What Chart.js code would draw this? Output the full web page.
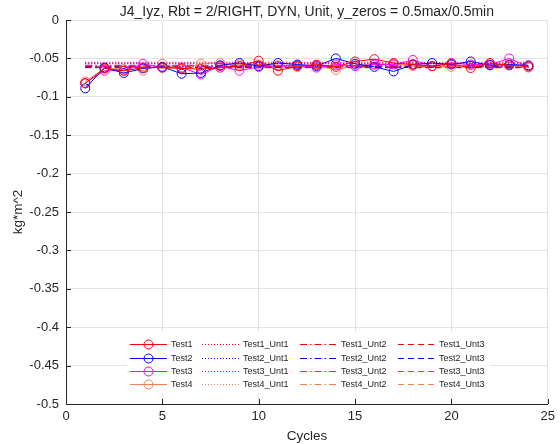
<!DOCTYPE html>
<html>
<head>
<meta charset="utf-8">
<script src="https://cdn.jsdelivr.net/npm/chart.js@4"></script>
<style>
    html, body { margin: 0; padding: 0; background: #ffffff; }
    #chart { display: block; }
</style>
</head>
<body>
<canvas id="chart" width="560" height="444"></canvas>
<script>
    const titleText = 'J4_Iyz, Rbt = 2/RIGHT, DYN, Unit, y_zeros = 0.5max/0.5min';
    const xTitle = 'Cycles';
    const yTitle = 'kg*m^2';

    const cycles = [1, 2, 3, 4, 5, 6, 7, 8, 9, 10, 11, 12, 13, 14, 15, 16, 17, 18, 19, 20, 21, 22, 23, 24];

    const testNames = ['Test1', 'Test2', 'Test3', 'Test4'];
    const testColors = ['#ff0000', '#0000ff', '#ff00ff', '#f0804f'];

    const test1 = [-0.0825, -0.063, -0.066, -0.062, -0.062, -0.063, -0.064, -0.062, -0.060, -0.053, -0.066, -0.060,
                   -0.058, -0.061, -0.054, -0.051, -0.056, -0.058, -0.060, -0.057, -0.0625, -0.056, -0.059, -0.060];
    const test2 = [-0.089, -0.062, -0.069, -0.063, -0.061, -0.070, -0.069, -0.059, -0.056, -0.060, -0.056, -0.058,
                   -0.060, -0.050, -0.057, -0.061, -0.067, -0.058, -0.056, -0.058, -0.054, -0.059, -0.058, -0.059];
    const test3 = [-0.082, -0.066, -0.066, -0.057, -0.062, -0.062, -0.071, -0.060, -0.066, -0.061, -0.060, -0.059,
                   -0.062, -0.058, -0.060, -0.058, -0.058, -0.052, -0.060, -0.056, -0.058, -0.058, -0.050, -0.061];
    const test4 = [-0.080, -0.063, -0.064, -0.066, -0.057, -0.064, -0.057, -0.056, -0.058, -0.058, -0.059, -0.061,
                   -0.059, -0.065, -0.059, -0.058, -0.057, -0.060, -0.060, -0.061, -0.059, -0.058, -0.059, -0.062];

    // unit reference levels, one per test
    const unt1Values = [-0.056, -0.057, -0.055, -0.056];
    const unt2Values = [-0.060, -0.061, -0.059, -0.060];
    const unt3Values = [-0.062, -0.0615, -0.061, -0.062];

    const untStyles = [
        { suffix: '_Unt1', dash: [1, 2] },
        { suffix: '_Unt2', dash: [7, 3, 1.5, 3] },
        { suffix: '_Unt3', dash: [6, 4] },
    ];

    function buildDatasets() {
        let datasets = [];
        let testValues = [test1, test2, test3, test4];

        testNames.forEach((name, i) => {
            datasets.push({
                label: name,
                data: cycles.map((c, k) => ({ x: c, y: testValues[i][k] })),
                borderColor: testColors[i],
                backgroundColor: 'rgba(0,0,0,0)',
                borderWidth: 1,
                pointRadius: 4.5,
                pointBorderWidth: 1,
                pointBackgroundColor: 'rgba(0,0,0,0)',
                pointBorderColor: testColors[i],
                tension: 0,
                order: 0,
            });
        });

        let untValues = [unt1Values, unt2Values, unt3Values];
        untStyles.forEach((st, j) => {
            testNames.forEach((name, i) => {
                let v = untValues[j][i];
                datasets.push({
                    label: name + st.suffix,
                    data: [{ x: cycles[0], y: v }, { x: cycles[cycles.length - 1], y: v }],
                    borderColor: testColors[i],
                    borderDash: st.dash,
                    borderWidth: 1,
                    pointRadius: 0,
                    fill: false,
                    order: 1,
                });
            });
        });
        return datasets;
    }

    const font = '"Liberation Sans", Arial, Helvetica, sans-serif';

    // title, inward tick marks and a 4x4 column-major legend
    const decorPlugin = {
        id: 'decor',
        afterDraw(chart) {
            const ctx = chart.ctx;
            const area = chart.chartArea;
            const xs = chart.scales.x, ys = chart.scales.y;

            ctx.save();
            ctx.fillStyle = '#262626';
            ctx.font = '14px ' + font;
            ctx.textAlign = 'center';
            ctx.textBaseline = 'middle';
            ctx.fillText(titleText, (area.left + area.right) / 2, 12);

            ctx.strokeStyle = '#262626';
            ctx.lineWidth = 1;
            ctx.beginPath();
            xs.ticks.forEach(t => {
                let px = Math.round(xs.getPixelForValue(t.value)) + 0.5;
                ctx.moveTo(px, area.bottom);
                ctx.lineTo(px, area.bottom - 5);
            });
            ys.ticks.forEach(t => {
                let py = Math.round(ys.getPixelForValue(t.value)) + 0.5;
                ctx.moveTo(area.left, py);
                ctx.lineTo(area.left + 5, py);
            });
            ctx.stroke();

            // legend box
            const boxL = area.left + 61, boxT = area.top + 312, boxW = 363, boxH = 61;
            ctx.fillStyle = '#ffffff';
            ctx.fillRect(boxL, boxT, boxW, boxH);

            const colX = [boxL + 3, boxL + 75, boxL + 173, boxL + 271];
            const rowY = [boxT + 12, boxT + 26, boxT + 39, boxT + 52];
            const sampleW = 37;
            const ds = chart.data.datasets;
            ctx.font = '9px ' + font;
            ctx.textAlign = 'left';
            ctx.textBaseline = 'middle';
            for (let col = 0; col < 4; col++) {
                for (let row = 0; row < 4; row++) {
                    let d = ds[col * 4 + row];
                    let x0 = colX[col], y0 = rowY[row] + 0.5;
                    ctx.strokeStyle = d.borderColor;
                    ctx.lineWidth = 1;
                    ctx.setLineDash(d.borderDash || []);
                    ctx.beginPath();
                    ctx.moveTo(x0, y0);
                    ctx.lineTo(x0 + sampleW, y0);
                    ctx.stroke();
                    ctx.setLineDash([]);
                    if (d.pointRadius > 0) {
                        ctx.beginPath();
                        ctx.arc(x0 + sampleW / 2, y0, 4.5, 0, Math.PI * 2);
                        ctx.stroke();
                    }
                    ctx.fillStyle = '#262626';
                    ctx.fillText(d.label, x0 + sampleW + 4, y0);
                }
            }
            ctx.restore();
        }
    };

    function drawChart() {
        const config = {
            type: 'line',
            data: { datasets: buildDatasets() },
            options: {
                responsive: false,
                animation: false,
                devicePixelRatio: 1,
                layout: { padding: { top: 20, right: 12, left: 0, bottom: 0 } },
                plugins: {
                    legend: { display: false },
                    title: { display: false },
                    tooltip: { enabled: false },
                },
                scales: {
                    x: {
                        type: 'linear',
                        min: 0,
                        max: 25,
                        afterFit: scale => { scale.height = 40; },
                        ticks: {
                            stepSize: 5,
                            color: '#262626',
                            font: { family: font, size: 13 },
                            padding: 5,
                            maxRotation: 0,
                        },
                        grid: { color: '#e3e3e3', drawTicks: false },
                        border: { color: '#262626', width: 1 },
                        title: {
                            display: true,
                            text: xTitle,
                            color: '#262626',
                            font: { family: font, size: 13.5 },
                            padding: { top: 0, bottom: 0 },
                        },
                    },
                    y: {
                        min: -0.5,
                        max: 0,
                        afterFit: scale => { scale.width = 66; },
                        ticks: {
                            stepSize: 0.05,
                            color: '#262626',
                            font: { family: font, size: 13 },
                            padding: 7,
                            callback: v => String(Number(v.toFixed(2))),
                        },
                        grid: { color: '#e3e3e3', drawTicks: false },
                        border: { color: '#262626', width: 1 },
                        title: {
                            display: true,
                            text: yTitle,
                            color: '#262626',
                            font: { family: font, size: 13.5 },
                            padding: { top: 10, bottom: 0 },
                        },
                    },
                },
            },
            plugins: [decorPlugin],
        };
        new Chart('chart', config);
    }

    window.onload = drawChart;
</script>
</body>
</html>
